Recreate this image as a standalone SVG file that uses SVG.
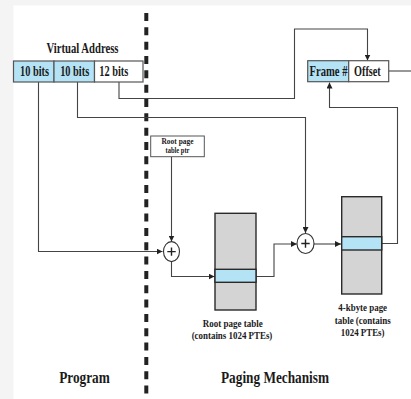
<svg xmlns="http://www.w3.org/2000/svg" width="411" height="399" viewBox="0 0 411 399">
<defs>
<style>
.t{font-family:"Liberation Serif","Times New Roman",serif;fill:#1a1a1a;text-anchor:middle}
.ln{fill:none;stroke:#444;stroke-width:1.1}
.cell{stroke:#555;stroke-width:1.2}
.blue{fill:#b5e3f6}
.white{fill:#fff}
.tbl{fill:#d4d4d4;stroke:#2a2a2a;stroke-width:1.4}
.row{fill:#b5e3f6;stroke:#2a2a2a;stroke-width:1.4}
.sum{fill:#fff;stroke:#333;stroke-width:1.1}
</style>
<marker id="ah" viewBox="0 0 6 6" refX="6" refY="3" markerWidth="6" markerHeight="6" markerUnits="userSpaceOnUse" orient="auto">
<path d="M0,0 L6,3 L0,6 z" fill="#222"/>
</marker>
</defs>
<rect x="0" y="0" width="411" height="399" fill="#f4f4f4"/>
<rect x="13.5" y="5.5" width="397.5" height="393.5" fill="#fff"/>

<g id="divider">
<line x1="146.3" y1="13" x2="146.3" y2="399" stroke="#222" stroke-width="4" stroke-dasharray="8 6.33"/>
</g>

<g id="connectors">
<path class="ln" d="M38.5 82 V251.5 H162.5" marker-end="url(#ah)"/>
<path class="ln" d="M77.5 82 V117.5 H305.5 V233" marker-end="url(#ah)"/>
<path class="ln" d="M119 82 V98.5 H294.5 V29 H367.5 V60.5" marker-end="url(#ah)"/>
<path class="ln" d="M389 71 H411"/>
<path class="ln" d="M382 243.5 H397.5 V107.5 H329.5 V82.5" marker-end="url(#ah)"/>
<path class="ln" d="M171.5 157 V241.5" marker-end="url(#ah)"/>
<path class="ln" d="M171.5 261.5 V276.5 H214.5" marker-end="url(#ah)"/>
<path class="ln" d="M256 276.5 H274 V244 H296.8" marker-end="url(#ah)"/>
<path class="ln" d="M314 244 H341" marker-end="url(#ah)"/>
</g>

<g id="virtual-address">
<text class="t" x="82.5" y="53" font-size="14" font-weight="bold" textLength="72" lengthAdjust="spacingAndGlyphs">Virtual Address</text>
<rect class="cell blue" x="13.5" y="61" width="40.5" height="21"/>
<rect class="cell blue" x="54" y="61" width="40.5" height="21"/>
<rect class="cell white" x="94.5" y="61" width="48.5" height="21"/>
<text class="t" x="34.5" y="76" font-size="14" font-weight="bold" textLength="29" lengthAdjust="spacingAndGlyphs">10 bits</text>
<text class="t" x="74.7" y="76" font-size="14" font-weight="bold" textLength="29" lengthAdjust="spacingAndGlyphs">10 bits</text>
<text class="t" x="113.8" y="76" font-size="14" font-weight="bold" textLength="29" lengthAdjust="spacingAndGlyphs">12 bits</text>
</g>

<g id="physical-address">
<rect class="cell blue" x="307.7" y="60.7" width="41" height="21"/>
<rect class="cell white" x="348.7" y="60.7" width="40" height="21"/>
<text class="t" transform="translate(328.5 76) scale(1 1.2)" font-size="11.5" font-weight="bold" textLength="38" lengthAdjust="spacingAndGlyphs">Frame #</text>
<text class="t" transform="translate(367.4 76) scale(1 1.2)" font-size="11.5" font-weight="bold" textLength="26.7" lengthAdjust="spacingAndGlyphs">Offset</text>
</g>

<g id="root-ptr">
<rect x="150.7" y="136" width="53.6" height="20.7" fill="#fff" stroke="#555" stroke-width="1"/>
<text class="t" x="177.5" y="143.8" font-size="8" font-weight="bold" textLength="32" lengthAdjust="spacingAndGlyphs">Root page</text>
<text class="t" x="177.5" y="152.6" font-size="8" font-weight="bold" textLength="24" lengthAdjust="spacingAndGlyphs">table ptr</text>
</g>

<g id="adder1">
<ellipse class="sum" cx="171.5" cy="251.6" rx="8" ry="10"/>
<path d="M167.3 251.6 H175.7 M171.5 247.4 V255.8" stroke="#222" stroke-width="1.4"/>
</g>

<g id="adder2">
<ellipse class="sum" cx="305.5" cy="243.5" rx="8.5" ry="10"/>
<path d="M301.3 243.5 H309.7 M305.5 239.3 V247.7" stroke="#222" stroke-width="1.4"/>
</g>

<g id="root-page-table">
<rect class="tbl" x="215" y="213.3" width="41" height="96.7"/>
<rect class="row" x="215" y="269.3" width="41" height="13"/>
<text class="t" x="232.7" y="327.3" font-size="10.5" font-weight="bold" textLength="60" lengthAdjust="spacingAndGlyphs">Root page table</text>
<text class="t" x="232" y="339.3" font-size="10.5" font-weight="bold" textLength="80.7" lengthAdjust="spacingAndGlyphs">(contains 1024 PTEs)</text>
</g>

<g id="page-table">
<rect class="tbl" x="341.7" y="196.7" width="40" height="97.3"/>
<rect class="row" x="341.7" y="236.7" width="40" height="13.3"/>
<text class="t" x="362.7" y="310.7" font-size="10.5" font-weight="bold" textLength="48.7" lengthAdjust="spacingAndGlyphs">4-kbyte page</text>
<text class="t" x="362.7" y="323.7" font-size="10.5" font-weight="bold" textLength="56" lengthAdjust="spacingAndGlyphs">table (contains</text>
<text class="t" x="362.7" y="336" font-size="10.5" font-weight="bold" textLength="43.7" lengthAdjust="spacingAndGlyphs">1024 PTEs)</text>
</g>

<g id="section-labels">
<text class="t" x="84.5" y="382.5" font-size="16" font-weight="bold" textLength="50.7" lengthAdjust="spacingAndGlyphs">Program</text>
<text class="t" x="275" y="382.5" font-size="16" font-weight="bold" textLength="108" lengthAdjust="spacingAndGlyphs">Paging Mechanism</text>
</g>
</svg>
